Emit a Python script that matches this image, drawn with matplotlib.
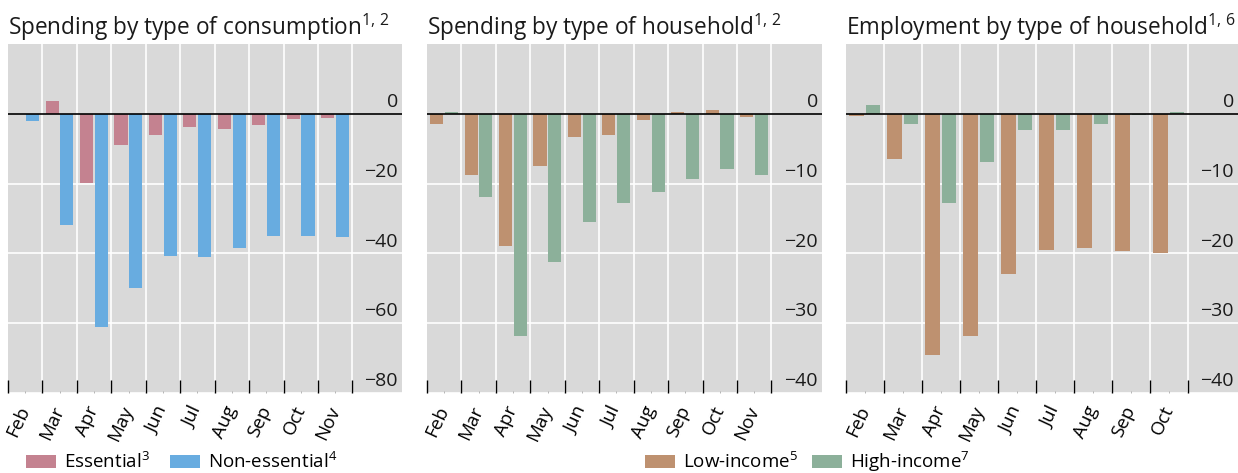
import matplotlib
matplotlib.use("Agg")
import matplotlib.pyplot as plt
import matplotlib.transforms as mtransforms
import numpy as np

FONT = "Open Sans"
plt.rcParams['font.family'] = [FONT, 'DejaVu Sans']
plt.rcParams['mathtext.fontset'] = 'custom'
plt.rcParams['mathtext.rm'] = FONT
plt.rcParams['mathtext.it'] = FONT + ':italic'
plt.rcParams['mathtext.bf'] = FONT + ':bold'

# ---------------- data ----------------
months_a = ['Feb', 'Mar', 'Apr', 'May', 'Jun', 'Jul', 'Aug', 'Sep', 'Oct', 'Nov']
essential = [0.0, 3.8, -19.8, -8.8, -6.2, -3.8, -4.4, -3.2, -1.5, -1.2]
non_essential = [-2.1, -31.8, -61.0, -49.8, -40.8, -41.0, -38.5, -35.0, -35.0, -35.3]

spend_low = [-1.5, -8.8, -18.9, -7.5, -3.3, -3.0, -0.9, 0.2, 0.5, -0.5]
spend_high = [0.2, -11.9, -31.8, -21.3, -15.5, -12.8, -11.2, -9.4, -7.9, -8.8]

months_c = ['Feb', 'Mar', 'Apr', 'May', 'Jun', 'Jul', 'Aug', 'Sep', 'Oct']
emp_low = [-0.3, -6.5, -34.5, -31.8, -22.9, -19.5, -19.2, -19.6, -19.9]
emp_high = [1.2, -1.5, -12.8, -6.9, -2.3, -2.3, -1.5, -0.2, 0.3]

yticks_a = [0, -20, -40, -60, -80]
ylim_a = (-80, 20)
yticks_b = [0, -10, -20, -30, -40]
ylim_b = (-40, 10)

titles = ['Spending by type of consumption$^{1,\\,2}$',
          'Spending by type of household$^{1,\\,2}$',
          'Employment by type of household$^{1,\\,6}$']

legend_labels_a = ['Essential$^{3}$', 'Non-essential$^{4}$']
legend_labels_b = ['Low-income$^{5}$', 'High-income$^{7}$']

C_ESS = '#c48290'
C_NON = '#68ace0'
C_LOW = '#be9170'
C_HIGH = '#8cb09a'
BG = '#d9d9d9'

W, H = 1238, 473
fig = plt.figure(figsize=(W / 100, H / 100), dpi=100)


def px_axes(x0, x1, y0, y1):
    return fig.add_axes([x0 / W, 1 - y1 / H, (x1 - x0) / W, (y1 - y0) / H])


def panel(ax, months, s1, s2, c1, c2, yticks, ylim, xmax, title):
    n = len(months)
    x = np.arange(n)
    b1 = ax.bar(x + 0.28, s1, width=0.38, color=c1, zorder=3)
    b2 = ax.bar(x + 0.71, s2, width=0.38, color=c2, zorder=3)
    ax.set_facecolor(BG)
    for sp in ax.spines.values():
        sp.set_visible(False)
    ax.set_xlim(0, xmax)
    ax.set_ylim(*ylim)
    ax.set_xticks(np.arange(n + 1))
    ax.set_xticklabels([])
    ax.set_xticks(x + 0.5, minor=True)
    ax.set_xticklabels(months, minor=True, rotation=65, ha='right',
                       rotation_mode='anchor', va='center', fontsize=13.5)
    off = mtransforms.ScaledTranslation(5 / 100, 0, fig.dpi_scale_trans)
    for lab in ax.get_xticklabels(minor=True):
        lab.set_transform(lab.get_transform() + off)
    ax.tick_params(axis='x', which='major', direction='in', length=9.5,
                   width=1.0, color='black')
    ax.tick_params(axis='x', which='minor', direction='in', length=1.5,
                   width=0.6, color='#aaaaaa', pad=10)
    ax.set_yticks(yticks)
    ax.set_yticklabels([])
    ax.tick_params(axis='y', length=0)
    for v in range(1, n + 1):
        ax.axvline(v, color='white', lw=1.2, zorder=1)
    for v in yticks:
        if v != 0:
            ax.axhline(v, color='white', lw=1.2, zorder=1)
    ax.axhline(0, color='black', lw=1.2, zorder=4)
    trans = mtransforms.blended_transform_factory(ax.transAxes, ax.transData)
    for v in yticks:
        lab = '0' if v == 0 else '\u2212' + str(abs(v))
        ax.annotate(lab, xy=(1, v), xycoords=trans, xytext=(-3, 2),
                    textcoords='offset points', ha='right', va='bottom',
                    fontsize=14, color='#1a1a1a')
    ax.text(0, 1 + 9 / 349, title, transform=ax.transAxes, ha='left',
            va='baseline', fontsize=16.3, color='#1a1a1a')
    return b1, b2


ax1 = px_axes(8, 402, 44, 393)
ax2 = px_axes(427, 822, 44, 393)
ax3 = px_axes(846, 1238, 44, 393)

h1 = panel(ax1, months_a, essential, non_essential, C_ESS, C_NON,
           yticks_a, ylim_a, 394 / 34.44, titles[0])
h2 = panel(ax2, months_a, spend_low, spend_high, C_LOW, C_HIGH,
           yticks_b, ylim_b, 395 / 34.44, titles[1])
h3 = panel(ax3, months_c, emp_low, emp_high, C_LOW, C_HIGH,
           yticks_b, ylim_b, 392 / 38.0, titles[2])

leg_kw = dict(frameon=False, fontsize=13.5, handlelength=1.6,
              handleheight=0.62, handletextpad=0.45,
              borderaxespad=0, borderpad=0, loc='center left')
entries = [(h1[0], legend_labels_a[0], 26), (h1[1], legend_labels_a[1], 170),
           (h2[0], legend_labels_b[0], 645), (h2[1], legend_labels_b[1], 812)]
for handle, label, xpx in entries:
    fig.legend([handle], [label], bbox_to_anchor=(xpx / W, 1 - 462 / H),
               **leg_kw)

fig.savefig('out.png', dpi=100)
